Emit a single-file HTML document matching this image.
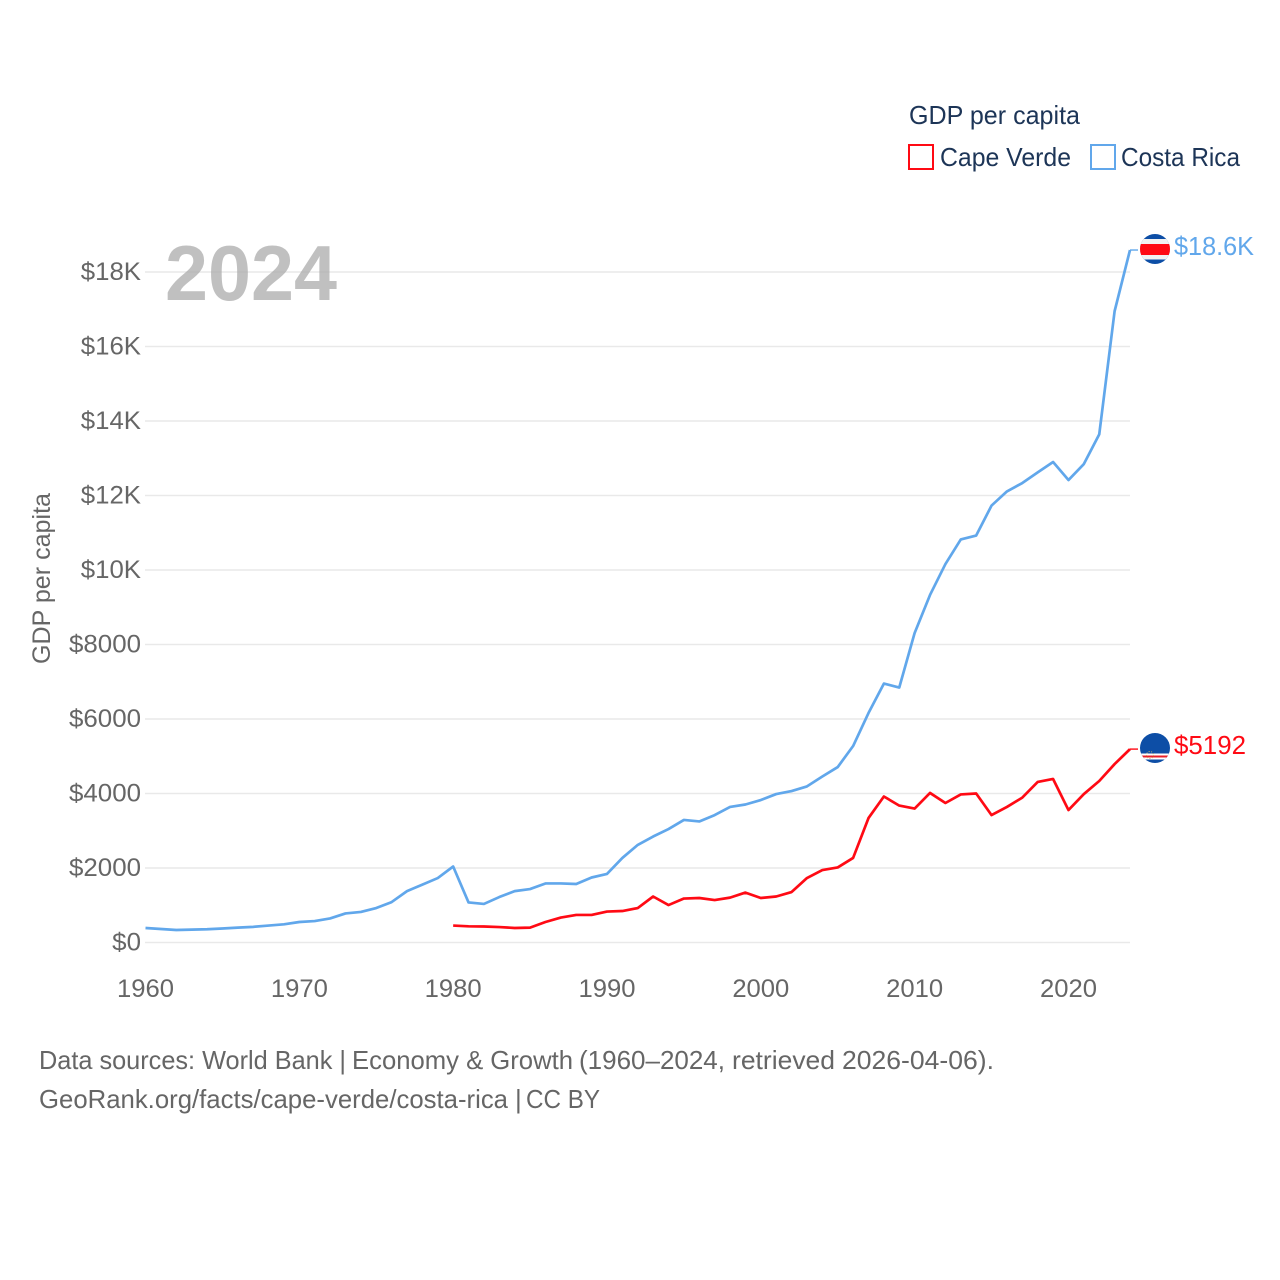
<!DOCTYPE html>
<html lang="en">
<head>
<meta charset="utf-8">
<title>GDP per capita: Cape Verde and Costa Rica</title>
<style>
html,body{margin:0;padding:0;background:#fff;width:1280px;height:1280px;overflow:hidden}
svg{display:block;font-family:"Liberation Sans",sans-serif}
</style>
</head>
<body>
<svg id="chart" xmlns="http://www.w3.org/2000/svg" width="1280" height="1280" viewBox="0 0 1280 1280">
  <rect width="1280" height="1280" fill="#ffffff"/>
  <defs>
    <clipPath id="clip-cr"><circle cx="1155" cy="249" r="15"/></clipPath>
    <clipPath id="clip-cv"><circle cx="1155" cy="748" r="15"/></clipPath>
  </defs>
  <g id="grid"></g>
  <text x="165" y="300" font-size="78" font-weight="bold" fill="#a8a8a8" fill-opacity="0.72" textLength="172" lengthAdjust="spacingAndGlyphs">2024</text>
  <g id="y-ticks"></g>
  <g id="x-ticks"></g>
  <text transform="translate(50 664) rotate(-90)" font-size="25" fill="#666666" textLength="171" lengthAdjust="spacingAndGlyphs">GDP per capita</text>
  <g id="series"></g>

  <g clip-path="url(#clip-cr)">
    <rect x="1140" y="234" width="30" height="30" fill="#0d4ea6"/>
    <rect x="1140" y="239" width="30" height="20.5" fill="#f2f2f2"/>
    <rect x="1140" y="244" width="30" height="11" fill="#ff0a14"/>
  </g>
  <text x="1174" y="255" font-size="26" fill="#61a7eb" textLength="80" lengthAdjust="spacingAndGlyphs">$18.6K</text>

  <g clip-path="url(#clip-cv)">
    <rect x="1140" y="733" width="30" height="30" fill="#0d4ea6"/>
    <rect x="1140" y="753.5" width="30" height="6" fill="#ffffff"/>
    <rect x="1140" y="755.5" width="30" height="2" fill="#e8202a"/>
    <circle cx="1150" cy="755" r="3.5" fill="none" stroke="#c9b36a" stroke-width="1" stroke-dasharray="1 1.5"/>
  </g>
  <text x="1174" y="754" font-size="26" fill="#ff0a14" textLength="72" lengthAdjust="spacingAndGlyphs">$5192</text>

  <text x="909" y="124" font-size="26" fill="#1d3557" textLength="171" lengthAdjust="spacingAndGlyphs">GDP per capita</text>
  <rect x="909" y="145" width="24" height="24" fill="#ffffff" stroke="#ff0a14" stroke-width="2"/>
  <text x="940" y="166" font-size="26" fill="#1d3557" textLength="131" lengthAdjust="spacingAndGlyphs">Cape Verde</text>
  <rect x="1091" y="145" width="24" height="24" fill="#ffffff" stroke="#61a7eb" stroke-width="2"/>
  <text x="1121" y="166" font-size="26" fill="#1d3557" textLength="119" lengthAdjust="spacingAndGlyphs">Costa Rica</text>

  <text y="1069" font-size="26" fill="#666666" xml:space="preserve"><tspan x="39" textLength="307" lengthAdjust="spacingAndGlyphs">Data sources: World Bank |</tspan> <tspan x="352" textLength="221" lengthAdjust="spacingAndGlyphs">Economy &amp; Growth</tspan> <tspan x="579" textLength="146" lengthAdjust="spacingAndGlyphs">(1960–2024,</tspan> <tspan x="732" textLength="103" lengthAdjust="spacingAndGlyphs">retrieved</tspan> <tspan x="842" textLength="152" lengthAdjust="spacingAndGlyphs">2026-04-06).</tspan></text>
  <text y="1108" font-size="26" fill="#666666" xml:space="preserve"><tspan x="39" textLength="469" lengthAdjust="spacingAndGlyphs">GeoRank.org/facts/cape-verde/costa-rica</tspan> <tspan x="515">|</tspan> <tspan x="526" textLength="74" lengthAdjust="spacingAndGlyphs">CC BY</tspan></text>
</svg>
<script>
const yTickValues = [0, 2000, 4000, 6000, 8000, 10000, 12000, 14000, 16000, 18000];
const yTickLabels = ["$0", "$2000", "$4000", "$6000", "$8000", "$10K", "$12K", "$14K", "$16K", "$18K"];
const xTickYears = [1960, 1970, 1980, 1990, 2000, 2010, 2020];
const costaRicaStartYear = 1960;
const costaRicaValues = [389, 362, 335, 345, 355, 375, 400, 420, 455, 488, 550, 575, 645, 780, 820, 925, 1085, 1380, 1555, 1730, 2040, 1075, 1035, 1220, 1380, 1435, 1585, 1585, 1570, 1745, 1840, 2270, 2620, 2845, 3045, 3290, 3250, 3420, 3640, 3705, 3825, 3985, 4065, 4190, 4455, 4710, 5275, 6160, 6950, 6845, 8310, 9330, 10160, 10820, 10925, 11730, 12110, 12335, 12620, 12900, 12415, 12845, 13640, 16950, 18590];
const capeVerdeStartYear = 1980;
const capeVerdeValues = [455, 435, 430, 415, 390, 400, 550, 670, 740, 740, 830, 845, 925, 1235, 1005, 1180, 1195, 1140, 1205, 1340, 1195, 1235, 1355, 1730, 1945, 2015, 2270, 3340, 3920, 3675, 3595, 4015, 3745, 3975, 4000, 3420, 3640, 3890, 4310, 4390, 3555, 3985, 4335, 4790, 5192];

const NS = "http://www.w3.org/2000/svg";
function xScale(year) { return 145.5 + (year - 1960) * (1130 - 145.5) / 64; }
function yScale(value) { return 942.5 - value * 670.5 / 18000; }
function labelWidth(s) {
  let w = 0;
  for (const c of s) { w += c === "K" ? 17 : 14.4; }
  return w;
}

const grid = document.getElementById("grid");
const yTicks = document.getElementById("y-ticks");
const xTicks = document.getElementById("x-ticks");
const series = document.getElementById("series");

yTickValues.forEach(function (v, i) {
  const line = document.createElementNS(NS, "line");
  
  
  line.setAttribute("x1", 145);
  line.setAttribute("x2", 1130);
  line.setAttribute("y1", yScale(v));
  line.setAttribute("y2", yScale(v));
  line.setAttribute("stroke", "#e9e9e9");
  line.setAttribute("stroke-width", "1.6");
  grid.appendChild(line);

  const t = document.createElementNS(NS, "text");
  
  
  t.setAttribute("x", 141);
  t.setAttribute("y", yScale(v) + 8);
  t.setAttribute("text-anchor", "end");
  t.setAttribute("font-size", "25");
  t.setAttribute("fill", "#666666");
  t.setAttribute("textLength", labelWidth(yTickLabels[i]));
  t.setAttribute("lengthAdjust", "spacingAndGlyphs");
  t.textContent = yTickLabels[i];
  yTicks.appendChild(t);
});

xTickYears.forEach(function (year) {
  const t = document.createElementNS(NS, "text");
  
  
  t.setAttribute("x", xScale(year));
  t.setAttribute("y", 997);
  t.setAttribute("text-anchor", "middle");
  t.setAttribute("font-size", "25");
  t.setAttribute("fill", "#666666");
  t.setAttribute("textLength", "57");
  t.setAttribute("lengthAdjust", "spacingAndGlyphs");
  t.textContent = String(year);
  xTicks.appendChild(t);
});

function seriesPath(startYear, values) {
  return values.map(function (v, i) {
    return (i ? "L" : "M") + xScale(startYear + i).toFixed(2) + " " + yScale(v).toFixed(2);
  }).join(" ");
}

const crLine = document.createElementNS(NS, "path");


crLine.setAttribute("d", seriesPath(costaRicaStartYear, costaRicaValues));
crLine.setAttribute("fill", "none");
crLine.setAttribute("stroke", "#61a7eb");
crLine.setAttribute("stroke-width", "2.7");
crLine.setAttribute("stroke-linejoin", "round");
series.appendChild(crLine);

const cvLine = document.createElementNS(NS, "path");


cvLine.setAttribute("d", seriesPath(capeVerdeStartYear, capeVerdeValues));
cvLine.setAttribute("fill", "none");
cvLine.setAttribute("stroke", "#ff0a14");
cvLine.setAttribute("stroke-width", "2.7");
cvLine.setAttribute("stroke-linejoin", "round");
series.appendChild(cvLine);

const crLast = costaRicaValues[costaRicaValues.length - 1];
const crConn = document.createElementNS(NS, "line");


crConn.setAttribute("x1", 1130);
crConn.setAttribute("x2", 1138);
crConn.setAttribute("y1", yScale(crLast));
crConn.setAttribute("y2", yScale(crLast));
crConn.setAttribute("stroke", "#61a7eb");
crConn.setAttribute("stroke-width", "1.4");
series.appendChild(crConn);

const cvLast = capeVerdeValues[capeVerdeValues.length - 1];
const cvConn = document.createElementNS(NS, "line");


cvConn.setAttribute("x1", 1130);
cvConn.setAttribute("x2", 1138);
cvConn.setAttribute("y1", yScale(cvLast));
cvConn.setAttribute("y2", yScale(cvLast));
cvConn.setAttribute("stroke", "#ff0a14");
cvConn.setAttribute("stroke-width", "1.4");
series.appendChild(cvConn);
</script>
</body>
</html>
